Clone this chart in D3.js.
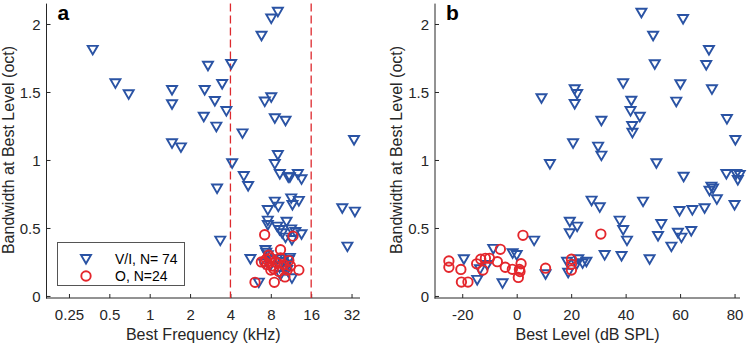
<!DOCTYPE html>
<html><head><meta charset="utf-8">
<script src="https://cdn.jsdelivr.net/npm/d3@7"></script>
<style>
body{margin:0;background:#fff;}
svg{display:block;font-family:"Liberation Sans",Arial,Helvetica,sans-serif;}
</style></head>
<body><svg id="c" width="750" height="345"></svg>
<script>
// ---- Data ----
const freqTicks = [0.25, 0.5, 1, 2, 4, 8, 16, 32];
const freqTickLabels = ["0.25", "0.5", "1", "2", "4", "8", "16", "32"];
const levelTicks = [-20, 0, 20, 40, 60, 80];
const levelTickLabels = ["-20", "0", "20", "40", "60", "80"];
const bwTicks = [0, 0.5, 1, 1.5, 2];
const bwTickLabels = ["0", "0.5", "1", "1.5", "2"];
const bandLimits = [4, 16];
const legendLabels = ["V/I, N= 74", "O, N=24"];

// panel a: [best frequency kHz, bandwidth oct]
const freqVI = [
[0.376,1.81],[0.555,1.564],[0.697,1.483],[1.467,1.515],[1.467,1.41],[1.467,1.123],[1.71,1.093],
[9.03,2.09],[8.06,2.04],[6.82,1.914],[2.72,1.693],[4.05,1.706],[3.47,1.559],[2.57,1.515],[3.06,1.434],
[8.06,1.461],[7.21,1.43],[3.73,1.36],[2.53,1.318],[8.57,1.307],[10.3,1.289],[3.14,1.245],[4.92,1.196],
[33.4,1.147],[9.03,1.037],[8.57,0.97],[4.12,0.976],
[9.34,0.897],[10.8,0.873],[11.1,0.873],[12.73,0.897],[13.56,0.858],[5.03,0.882],[5.42,0.809],[3.18,0.79],
[8.57,0.694],[9.1,0.657],[7.6,0.632],[11.36,0.718],[12.95,0.699],[11.6,0.669],[27.3,0.645],[33.9,0.62],
[7.6,0.554],[7.6,0.522],[8.93,0.51],[10.48,0.546],[9.3,0.485],[9.73,0.461],[10.3,0.429],[11.35,0.49],
[11.5,0.412],[13.56,0.454],[3.36,0.407],[29.8,0.363],[7.3,0.338],[7.4,0.318],[5.64,0.272],[7.09,0.24],
[10.9,0.265],[9.45,0.154],[10.6,0.191],[11.5,0.13],[6.51,0.098],
[7.6,0.30],[8.9,0.27],[9.8,0.25],[10.5,0.23],[8.2,0.26],[11.1,0.28],[9.3,0.21],[7.9,0.22],[10.2,0.19],[12.2,0.47]
];
const freqO = [
[7.2,0.45],[11.7,0.44],[9.45,0.34],[6.8,0.25],[7.2,0.25],[7.5,0.23],[7.96,0.28],[8.2,0.22],
[8.7,0.25],[9.45,0.28],[10.0,0.23],[10.9,0.26],[12.95,0.19],[10.6,0.19],[9.2,0.18],[8.4,0.20],
[6.1,0.10],[8.5,0.10],[10.2,0.14],[7.7,0.30],[8.0,0.19],[9.0,0.24],[11.2,0.22],[7.4,0.27]
];
// panel b: [best level dB SPL, bandwidth oct]
const levelVI = [
[9.1,1.454],[12.2,0.97],
[45.8,2.083],[61.1,2.037],[50.1,1.914],[70.6,1.809],[69.6,1.699],[50.7,1.704],[39.1,1.564],[60.1,1.557],
[71.7,1.52],[21.3,1.52],[22.2,1.485],[21.3,1.412],[58.6,1.429],[42.1,1.436],[41.8,1.36],[45.2,1.318],
[31.1,1.289],[42.4,1.25],[42.5,1.2],[77.2,1.301],[20.7,1.123],[29.9,1.098],[31.1,1.032],[80.3,1.147],[51.3,0.976],
[61.3,0.877],[77,0.897],[80.6,0.897],[81.9,0.89],[81.2,0.853],[71.5,0.804],[72.1,0.79],[70.8,0.774],
[73.5,0.711],[80,0.669],[27.5,0.701],[30.5,0.652],[46.4,0.694],[64.5,0.632],[69,0.645],[59.8,0.625],
[19.5,0.546],[22.2,0.51],[37.8,0.554],[39.1,0.485],[53.1,0.529],[19.5,0.461],[51.9,0.441],[59.2,0.465],
[60.5,0.429],[64.1,0.478],[40.5,0.407],[56.8,0.363],[32.3,0.301],[38.5,0.294],[48.8,0.27],[22.6,0.27],
[24.2,0.24],[25.6,0.252],[18.5,0.252],[22,0.233],[18.9,0.171],
[6.4,0.407],[-19.4,0.27],[-14.5,0.118],[-13.5,0.196],[-10.8,0.228],[-8.6,0.346],[-5.2,0.093],[-1.5,0.314],[0,0.301],[10.6,0.16]
];
const levelO = [
[-24.9,0.257],[-24.9,0.211],[-20.5,0.195],[-20.3,0.102],[-17.9,0.102],[-14.7,0.236],[-13.2,0.27],[-11.5,0.277],
[-10,0.277],[-12.4,0.191],[-7.1,0.252],[-6,0.343],[-4.2,0.211],[-1.6,0.196],[0.6,0.136],[1,0.195],
[1.6,0.237],[2.3,0.446],[10.6,0.204],[20.1,0.27],[20.1,0.233],[20.1,0.19],[30.9,0.455],[1.2,0.18]
];

// ---- Style ----
const BLUE = "#2a53a4", RED = "#e4262c", AX = "#262626";
const svg = d3.select("#c");

const y = d3.scaleLinear().domain([-0.015, 2.15]).range([298, 3.6]);
const xa = d3.scaleLog().base(2).domain([0.17, 37]).range([46.5, 360]);
const xb = d3.scaleLinear().domain([-30, 82]).range([435, 740]);

const tri = "M-5,-4L5,-4L0,4.6Z";

function panel(x, xTicks, xLabels, xLabel, letter, left, right) {
  const g = svg.append("g");
  const ya = g.append("g").attr("transform", `translate(${left},0)`)
    .call(d3.axisRight(y).tickValues(bwTicks).tickSize(4).tickFormat((d,i)=>bwTickLabels[i]));
  ya.select(".domain").remove();
  ya.selectAll("text").attr("x", -6).attr("text-anchor", "end").attr("dy", "0.35em")
    .attr("font-size", 15).attr("fill", AX).attr("font-family", null);
  ya.selectAll("line").attr("stroke", AX);
  const xaG = g.append("g").attr("transform", `translate(0,298)`)
    .call(d3.axisTop(x).tickValues(xTicks).tickSize(4).tickFormat((d,i)=>xLabels[i]));
  xaG.select(".domain").remove();
  xaG.selectAll("text").attr("y", 17).attr("dy", "0.35em")
    .attr("font-size", 15).attr("fill", AX).attr("font-family", null);
  xaG.selectAll("line").attr("stroke", AX);
  g.append("line").attr("x1", left).attr("x2", left).attr("y1", y.range()[1]).attr("y2", 298.5)
    .attr("stroke", AX).attr("stroke-width", 1);
  g.append("line").attr("x1", left - 0.5).attr("x2", right).attr("y1", 298).attr("y2", 298)
    .attr("stroke", AX).attr("stroke-width", 1);
  g.append("text").attr("x", (left + right) / 2).attr("y", 340).attr("text-anchor", "middle")
    .attr("font-size", 16).attr("fill", AX).text(xLabel);
  g.append("text").attr("transform", `translate(${left - 33},150) rotate(-90)`).attr("text-anchor", "middle")
    .attr("font-size", 16).attr("fill", AX).text("Bandwidth at Best Level (oct)");
  g.append("text").attr("x", left + 11).attr("y", 20).attr("font-size", 21).attr("font-weight", "bold")
    .attr("fill", "#000").text(letter);
  return g;
}

function marks(g, x, vi, o) {
  g.selectAll("path.vi").data(vi).enter().append("path").attr("class", "vi")
    .attr("d", tri).attr("transform", d => `translate(${x(d[0])},${y(d[1])})`)
    .attr("fill", "none").attr("stroke", BLUE).attr("stroke-width", 1.9);
  g.selectAll("circle.o").data(o).enter().append("circle").attr("class", "o")
    .attr("cx", d => x(d[0])).attr("cy", d => y(d[1])).attr("r", 4.7)
    .attr("fill", "none").attr("stroke", RED).attr("stroke-width", 1.9);
}

const ga = panel(xa, freqTicks, freqTickLabels, "Best Frequency (kHz)", "a", 46.5, 360);
ga.selectAll("line.band").data(bandLimits).enter().append("line").attr("class", "band")
  .attr("x1", d => xa(d)).attr("x2", d => xa(d)).attr("y1", y.range()[1]).attr("y2", 298)
  .attr("stroke", "#dd2a2e").attr("stroke-width", 1.3).attr("stroke-dasharray", "8,4");
marks(ga, xa, freqVI, freqO);

const gb = panel(xb, levelTicks, levelTickLabels, "Best Level (dB SPL)", "b", 435, 740);
marks(gb, xb, levelVI, levelO);

// legend
const lg = svg.append("g");
lg.append("rect").attr("x", 57.5).attr("y", 242.5).attr("width", 127).attr("height", 43)
  .attr("fill", "#fff").attr("stroke", "#555").attr("stroke-width", 1);
lg.append("path").attr("d", tri).attr("transform", "translate(86,259)")
  .attr("fill", "none").attr("stroke", BLUE).attr("stroke-width", 1.9);
lg.append("circle").attr("cx", 86).attr("cy", 276).attr("r", 4.7)
  .attr("fill", "none").attr("stroke", RED).attr("stroke-width", 1.9);
lg.selectAll("text").data(legendLabels).enter().append("text")
  .attr("x", 115).attr("y", (d,i) => 259 + i * 17).attr("dy", "0.35em")
  .attr("font-size", 14).attr("fill", "#000").text(d => d);
</script></body></html>
